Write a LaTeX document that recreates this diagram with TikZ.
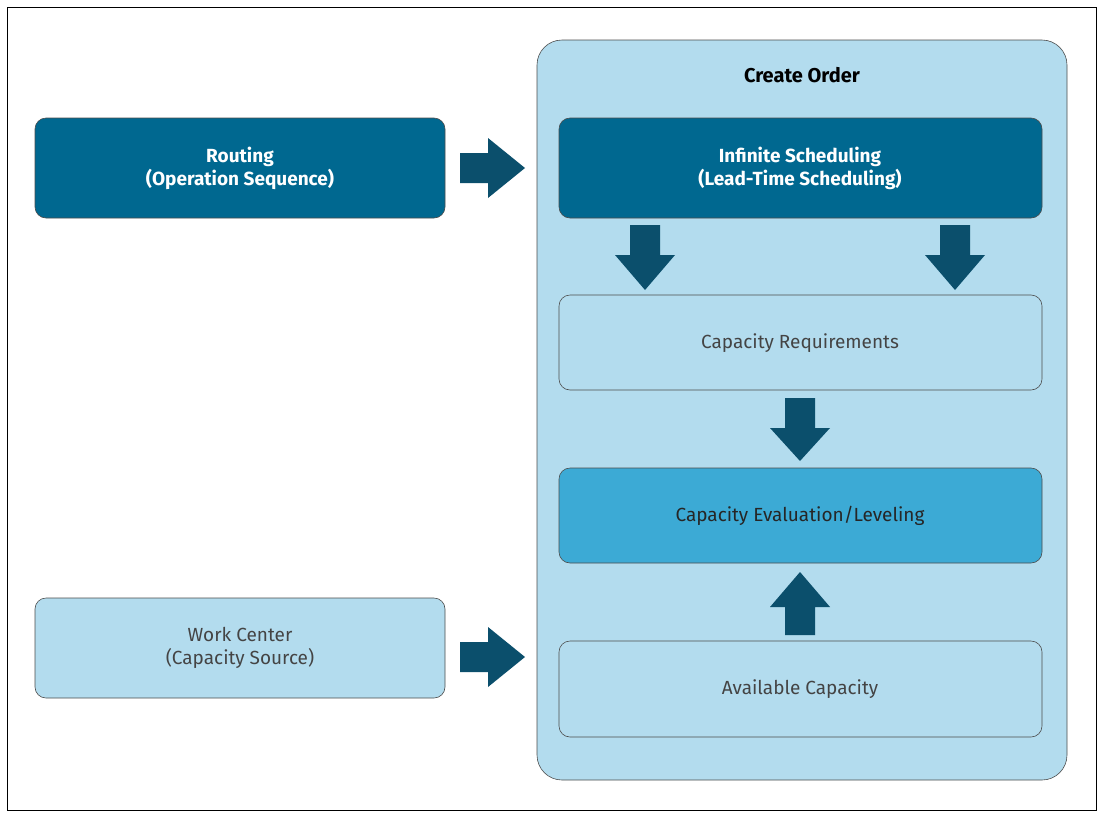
\documentclass[tikz,border=0pt]{standalone}
\usepackage{fontspec}
\setmainfont{Fira Sans}
\definecolor{dark}{HTML}{006890}
\definecolor{light}{HTML}{B3DCEE}
\definecolor{mid}{HTML}{3CAAD5}
\definecolor{arr}{HTML}{0B4F6C}
\definecolor{txt}{HTML}{444444}
\begin{document}
\begin{tikzpicture}[x=1pt,y=-1pt,
  box/.style={draw=black!70,line width=0.6pt,rounded corners=11pt,align=center,font=\fontsize{19}{23}\selectfont},
  darkbox/.style={box,fill=dark,text=white,font=\fontsize{19}{23}\selectfont\bfseries},
  lightbox/.style={box,fill=light,text=txt},
  midbox/.style={box,fill=mid,text=black!85},
  blk/.style={fill=arr}]
\useasboundingbox (0,0) rectangle (1103,817);
\draw[line width=0.8pt] (7,7) rectangle (1096,810);
\draw[fill=light,draw=black!70,line width=0.6pt,rounded corners=25pt] (537,40) rectangle (1067,780);
\node[font=\fontsize{20}{24}\selectfont\bfseries] (title) at (802,75) {Create Order};
\path (35,118) rectangle coordinate (r) (445,218);
\draw[darkbox] (35,118) rectangle (445,218);
\node[text=white,align=center,font=\fontsize{19}{23}\selectfont\bfseries] (routing) at (240,168) {Routing\\(Operation Sequence)};
\draw[darkbox] (559,118) rectangle (1042,218);
\node[text=white,align=center,font=\fontsize{19}{23}\selectfont\bfseries] (inf) at (800,168) {Infinite Scheduling\\(Lead-Time Scheduling)};
\draw[lightbox] (559,295) rectangle (1042,390);
\node[text=txt,font=\fontsize{19}{23}\selectfont] (req) at (800,343) {Capacity Requirements};
\draw[midbox] (559,468) rectangle (1042,563);
\node[text=black!85,font=\fontsize{19}{23}\selectfont] (eval) at (800,516) {Capacity Evaluation/Leveling};
\draw[lightbox] (559,641) rectangle (1042,737);
\node[text=txt,font=\fontsize{19}{23}\selectfont] (avail) at (800,689) {Available Capacity};
\draw[lightbox] (35,598) rectangle (445,698);
\node[text=txt,align=center,font=\fontsize{19}{23}\selectfont] (wc) at (240,648) {Work Center\\(Capacity Source)};
% right arrows
\foreach \y in {168,657}{
 \fill[blk] (460,\y-15) -- (488,\y-15) -- (488,\y-30) -- (525,\y) -- (488,\y+30) -- (488,\y+15) -- (460,\y+15) -- cycle;}
% down arrows
\foreach \x/\a/\b/\c in {645/225/255/290, 955/225/255/290, 800/398/428/461}{
 \fill[blk] (\x-15,\a) -- (\x+15,\a) -- (\x+15,\b) -- (\x+30,\b) -- (\x,\c) -- (\x-30,\b) -- (\x-15,\b) -- cycle;}
% up arrow
\fill[blk] (785,635) -- (815,635) -- (815,607) -- (830,607) -- (800,572) -- (770,607) -- (785,607) -- cycle;
\end{tikzpicture}
\end{document}
